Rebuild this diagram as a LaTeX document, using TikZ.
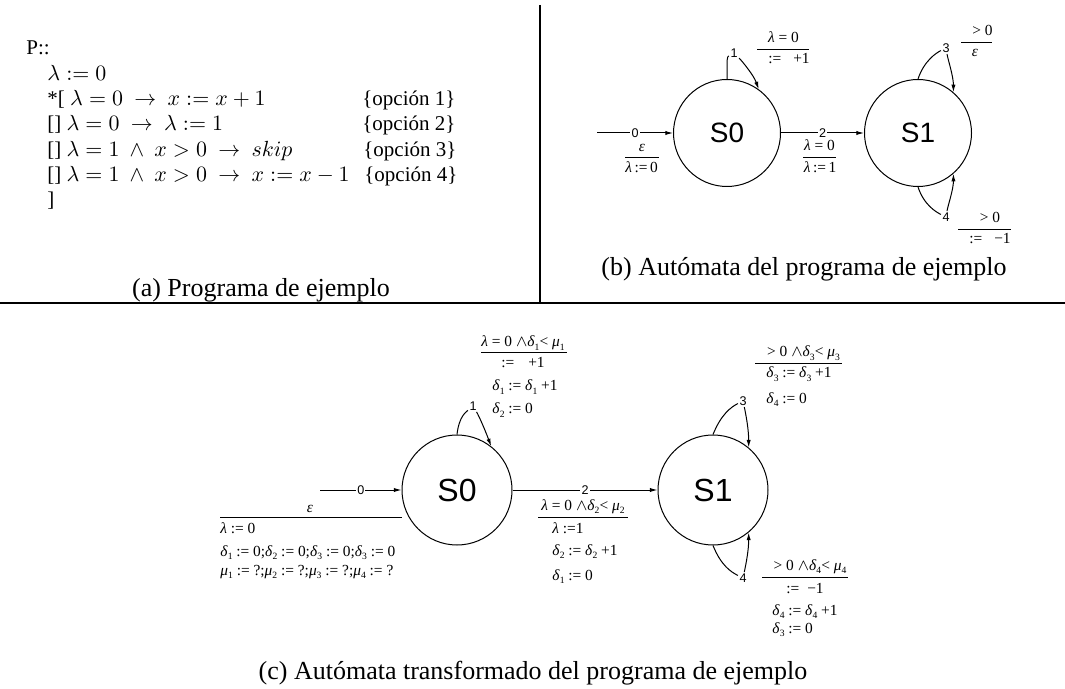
\documentclass[tikz,border=0pt]{standalone}
\usepackage[no-math]{fontspec}
\setmainfont{Liberation Serif}
\newfontfamily\sansf{Liberation Sans}
\usetikzlibrary{arrows.meta}
\newcommand\gr[1]{\textit{#1}}
\newcommand\sbx[1]{\raisebox{-0.45ex}{\fontsize{4.8}{5}\selectfont #1}}
\tikzset{
  stateb/.style={circle,draw,line width=0.5pt,minimum size=53.5pt,inner sep=0pt,font=\sansf\fontsize{14}{16}\selectfont},
  statec/.style={circle,draw,line width=0.5pt,minimum size=55pt,inner sep=0pt,font=\sansf\fontsize{16}{18}\selectfont},
  nlab/.style={fill=white,inner sep=0.6pt,font=\sansf\fontsize{6.3}{7}\selectfont},
  arr/.style={line width=0.5pt,-{Latex[length=3.8pt,width=2.1pt]}},
  lin/.style={line width=0.5pt},
  elab/.style={inner sep=0pt,anchor=base,font=\fontsize{7.7}{8.5}\selectfont},
  elabl/.style={elab,anchor=base west},
  fbar/.style={line width=0.45pt},
  prog/.style={inner sep=0pt,anchor=base west,font=\fontsize{10.5}{12}\selectfont},
  captxt/.style={inner sep=0pt,anchor=base,font=\fontsize{13}{15}\selectfont},
  divline/.style={line width=0.8pt},
}
\begin{document}
\begin{tikzpicture}[x=0.5pt,y=-0.5pt]
\useasboundingbox (0,0) rectangle (1065,689);

% dividers
\draw[divline] (540,5) -- (540,303);
\draw[divline] (0,303) -- (1065,303);

% (a) program
\node[prog] (p0) at (26,55) {P::};
\node[prog] (p1) at (47,80.5) {$\lambda := 0$};
\node[prog] (p2) at (47,106) {*[ $\lambda = 0\ \rightarrow\ x := x+1$};
\node[prog] (p3) at (47,131) {[] $\lambda = 0\ \rightarrow\ \lambda := 1$};
\node[prog] (p4) at (47,156.5) {[] $\lambda = 1\ \wedge\ x > 0\ \rightarrow\ skip$};
\node[prog] (p5) at (47,182) {[] $\lambda = 1\ \wedge\ x > 0\ \rightarrow\ x := x-1$};
\node[prog] (p6) at (47,207) {]};
\node[prog] (o1) at (362,106) {\{opción 1\}};
\node[prog] (o2) at (362,131) {\{opción 2\}};
\node[prog] (o3) at (363,156.5) {\{opción 3\}};
\node[prog] (o4) at (364,182) {\{opción 4\}};
\node[captxt] (capa) at (261,297) {(a) Programa de ejemplo};

% (b) automaton
\node[stateb] (S0b) at (727,133) {S0};
\node[stateb] (S1b) at (918,133) {S1};
\coordinate (i0b) at (597,133);
\node[nlab] (n1b) at (734,53) {1};
\node[nlab] (n3b) at (946,48) {3};
\node[nlab] (n4b) at (946,217) {4};
\draw[arr] (i0b) -- node[nlab] (n0b) {0} (S0b);
\draw[arr] (S0b) -- node[nlab] (n2b) {2} (S1b);
\draw[lin] (S0b.90) .. controls +(0,-22) and +(-7,4) .. (n1b);
\draw[arr] (n1b) .. controls +(8,8) and +(-5,-14) .. (S0b.54);
\draw[lin] (S1b.90) .. controls +(6,-18) and +(-10,5) .. (n3b);
\draw[arr] (n3b) .. controls +(2,12) and +(0,-16) .. (S1b.49);
\draw[lin] (S1b.-90) .. controls +(6,18) and +(-10,-5) .. (n4b);
\draw[arr] (n4b) .. controls +(2,-12) and +(0,16) .. (S1b.-49);
% labels (b)
\node[elab] (b0n) at (642,152) {\gr{ε}};
\draw[fbar] (625,157) -- (659,157);
\node[elab] (b0d) at (641.5,173) {\gr{λ}\,:=\,0};
\node[elab] (b2n) at (819.5,151) {\gr{λ} = 0};
\draw[fbar] (803,157) -- (836,157);
\node[elab] (b2d) at (820,173) {\gr{λ}\,:=\,1};
\node[elab] (b1n) at (783.5,43) {\gr{λ} = 0};
\draw[fbar] (757,49) -- (809,49);
\node[elab] (b1d) at (789,64) {:=\hspace{6pt}+1};
\node[elab] (b3n) at (982.5,36) {> 0};
\draw[fbar] (961,42) -- (992,42);
\node[elab] (b3d) at (975,57) {\gr{ε}};
\node[elab] (b4n) at (990,223) {> 0};
\draw[fbar] (958,229) -- (1011,229);
\node[elab] (b4d) at (990,244) {:=\hspace{6pt}−1};
\node[captxt] (capb) at (804,276) {(b) Autómata del programa de ejemplo};

% (c) transformed automaton
\node[statec] (S0c) at (457,490) {S0};
\node[statec] (S1c) at (713,490) {S1};
\coordinate (i0c) at (320,490);
\node[nlab] (n1c) at (473,406) {1};
\node[nlab] (n3c) at (743,401) {3};
\node[nlab] (n4c) at (743,578) {4};
\draw[arr] (i0c) -- node[nlab] (n0c) {0} (S0c);
\draw[arr] (S0c) -- node[nlab] (n2c) {2} (S1c);
\draw[lin] (S0c.90) .. controls +(2,-18) and +(-7,6) .. (n1c);
\draw[arr] (n1c) .. controls +(6,10) and +(-6,-16) .. (S0c.52);
\draw[lin] (S1c.90) .. controls +(8,-20) and +(-12,6) .. (n3c);
\draw[arr] (n3c) .. controls +(3,14) and +(0,-18) .. (S1c.50);
\draw[lin] (S1c.-90) .. controls +(8,20) and +(-12,-6) .. (n4c);
\draw[arr] (n4c) .. controls +(3,-14) and +(0,18) .. (S1c.-50);
% labels (c): initial
\node[elab] (c0n) at (310,512) {\gr{ε}};
\draw[fbar] (220,517) -- (402,517);
\node[elabl] (c0a) at (220,533) {\gr{λ} := 0};
\node[elabl] (c0b) at (220,556) {\gr{δ}\sbx{1} := 0;\gr{δ}\sbx{2} := 0;\gr{δ}\sbx{3} := 0;\gr{δ}\sbx{3} := 0};
\node[elabl] (c0c) at (220,575) {\gr{μ}\sbx{1} := ?;\gr{μ}\sbx{2} := ?;\gr{μ}\sbx{3} := ?;\gr{μ}\sbx{4} := ?};
% loop 1
\node[elab] (c1n) at (523,347) {\gr{λ} = 0 $\wedge$\gr{δ}\sbx{1}< \gr{μ}\sbx{1}};
\draw[fbar] (481,352.5) -- (567,352.5);
\node[elab] (c1a) at (523,368) {:=\hspace{7pt}+1};
\node[elabl] (c1b) at (492,391) {\gr{δ}\sbx{1} := \gr{δ}\sbx{1} +1};
\node[elabl] (c1c) at (492,414) {\gr{δ}\sbx{2} := 0};
% edge 2
\node[elab] (c2n) at (583,510) {\gr{λ} = 0 $\wedge$\gr{δ}\sbx{2}< \gr{μ}\sbx{2}};
\draw[fbar] (538,517) -- (628,517);
\node[elabl] (c2a) at (552,533) {\gr{λ} :=1};
\node[elabl] (c2b) at (552,555) {\gr{δ}\sbx{2} := \gr{δ}\sbx{2} +1};
\node[elabl] (c2c) at (552,580) {\gr{δ}\sbx{1} := 0};
% loop 3
\node[elab] (c3n) at (803.5,357) {> 0 $\wedge$\gr{δ}\sbx{3}< \gr{μ}\sbx{3}};
\draw[fbar] (755,363) -- (842,363);
\node[elabl] (c3a) at (766,378) {\gr{δ}\sbx{3} := \gr{δ}\sbx{3} +1};
\node[elabl] (c3b) at (766,403) {\gr{δ}\sbx{4} := 0};
% loop 4
\node[elab] (c4n) at (810,570) {> 0 $\wedge$\gr{δ}\sbx{4}< \gr{μ}\sbx{4}};
\draw[fbar] (762,577) -- (848,577);
\node[elab] (c4a) at (805,593) {:=\hspace{4pt}−1};
\node[elabl] (c4b) at (772,615) {\gr{δ}\sbx{4} := \gr{δ}\sbx{4} +1};
\node[elabl] (c4c) at (772,633) {\gr{δ}\sbx{3} := 0};
\node[captxt] (capc) at (533,679) {(c) Autómata transformado del programa de ejemplo};
\end{tikzpicture}
\end{document}
